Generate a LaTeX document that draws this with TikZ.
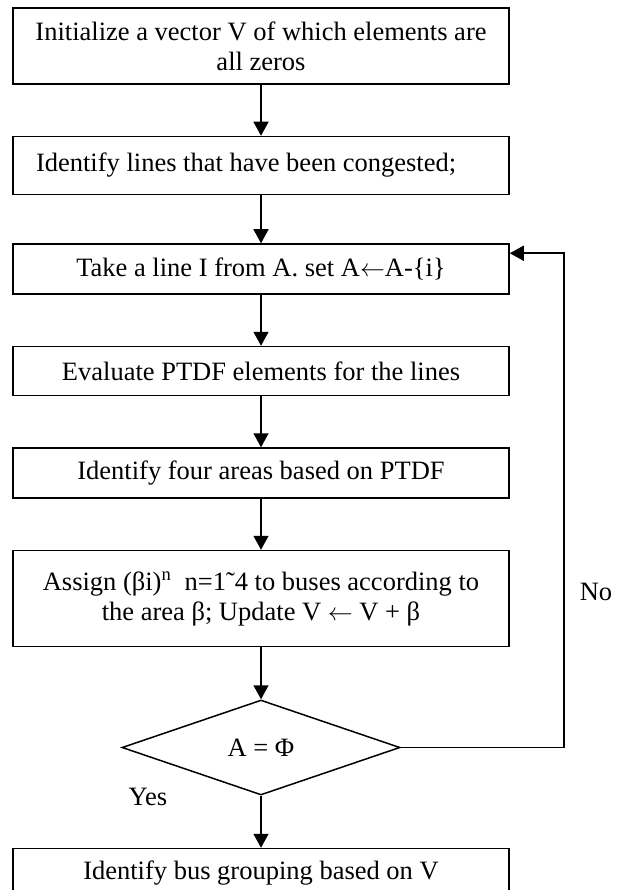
\documentclass[tikz,border=0pt]{standalone}
\usepackage{fontspec}
\setmainfont{Liberation Serif}
\usepackage{tikz}
\usetikzlibrary{positioning}
\usetikzlibrary{shapes.geometric}
\usetikzlibrary{arrows.meta}
\tikzstyle{flow_text} = [font = \fontsize{26.5pt}{30pt}\selectfont]
\tikzstyle{flow_box} = [flow_text, draw, rectangle, line width = 1.5pt, minimum width = 496pt, inner sep = 0, align = center]
\tikzstyle{flow_decision} = [flow_text, draw, diamond, line width = 1.5pt, minimum width = 278pt, minimum height = 95pt, inner sep = 0, aspect = 2.9]
\tikzstyle{flow_arrow} = [line width = 1.5pt, -{Triangle[length = 14pt, width = 15pt]}]

\begin{document}
\begin{tikzpicture}[node distance = 51pt]
        \useasboundingbox (0,0) rectangle (617pt,-890pt);
        \node [style = {flow_box}, minimum height = 76pt] (init) at (261pt,-46pt)
            {Initialize a vector V of which elements are\\all zeros};
        \node [style = {flow_box}, minimum height = 58pt, below = of init] (congested)
            {\makebox[450pt][l]{Identify lines that have been congested;}};
        \node [style = {flow_box}, minimum height = 50pt, below = 48pt of congested] (take)
            {Take a line I from A. set A$\leftarrow$A-\{i\}};
        \node [style = {flow_box}, minimum height = 49pt, below = of take] (ptdf)
            {Evaluate PTDF elements for the lines};
        \node [style = {flow_box}, minimum height = 50pt, below = of ptdf] (areas)
            {Identify four areas based on PTDF};
        \node [style = {flow_box}, minimum height = 96pt, below = of areas] (assign)
            {Assign (βi)\textsuperscript{n}\enspace n=1˜4 to buses according to\\the area β; Update V $\leftarrow$ V + β};
        \node [style = {flow_decision}, below = 52pt of assign] (check) {A = Φ};
        \node [style = {flow_box}, minimum height = 50pt, below = 52pt of check] (grouping)
            {Identify bus grouping based on V};

        \coordinate [right = 54pt of take.north east, yshift = -10pt] (loop);

        \draw [style = {flow_arrow}] (init) -- (congested);
        \draw [style = {flow_arrow}] (congested) -- (take);
        \draw [style = {flow_arrow}] (take) -- (ptdf);
        \draw [style = {flow_arrow}] (ptdf) -- (areas);
        \draw [style = {flow_arrow}] (areas) -- (assign);
        \draw [style = {flow_arrow}] (assign) -- (check);
        \draw [style = {flow_arrow}] (check) -- (grouping);
        \draw [style = {flow_arrow}] (check.east) -| (loop) -- (loop -| take.east);

        \node [style = {flow_text}] (no) at (596pt,-592pt) {No};
        \node [style = {flow_text}] (yes) at (148pt,-797pt) {Yes};
    \end{tikzpicture}
\end{document}
